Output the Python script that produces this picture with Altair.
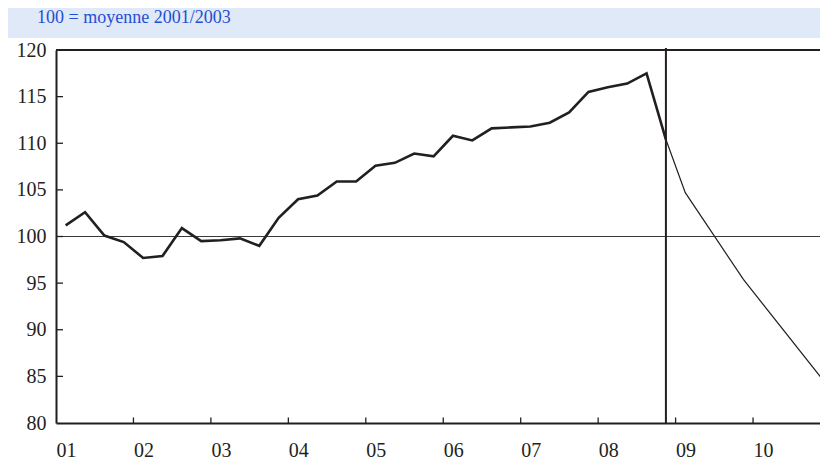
import json
import altair as alt
import pandas as pd

# ---------------- data ----------------
subtitle = "100 = moyenne 2001/2003"
years = list(range(2001, 2011))
year_labels = ["01", "02", "03", "04", "05", "06", "07", "08", "09", "10"]
y_ticks = [80, 85, 90, 95, 100, 105, 110, 115, 120]

# observed quarterly index, 2001Q1 .. 2008Q4
obs_values = [
    101.2, 102.6, 100.1, 99.4,
    97.7, 97.9, 100.9, 99.5,
    99.6, 99.8, 99.0, 102.0,
    104.0, 104.4, 105.9, 105.9,
    107.6, 107.9, 108.9, 108.6,
    110.8, 110.3, 111.6, 111.7,
    111.8, 112.2, 113.3, 115.5,
    116.0, 116.4, 117.5, 110.4,
]
# projection (quarter number counted from 2001Q1 = 1)
fc_quarter = [32, 33, 36, 40]
fc_values = [110.4, 104.7, 95.4, 84.9]
last_obs_quarter = 32

# ---------------- frames ----------------
def qtime(q):
    return years[0] + (q - 0.5) / 4

obs = pd.DataFrame({"t": [qtime(i + 1) for i in range(len(obs_values))], "v": obs_values})
fc = pd.DataFrame({"t": [qtime(q) for q in fc_quarter], "v": fc_values})
yt = pd.DataFrame({"v": [v for v in y_ticks if 80 < v < 120]})
xt = pd.DataFrame({"t": years[1:]})
one = pd.DataFrame({"s": [subtitle]})
vline = pd.DataFrame({"t": [qtime(last_obs_quarter)]})

W, H = 764, 373
XMAX = 2001 + W / 77.45
INK = "#231f20"
FONT = "Liberation Serif"

xs = alt.Scale(domain=[2001, XMAX], nice=False, zero=False)
ys = alt.Scale(domain=[80, 120], nice=False, zero=False)

label_expr = "%s[datum.value - %d]" % (json.dumps(year_labels), years[0])

xaxis = alt.Axis(values=years, labelExpr=label_expr, labelAlign="left",
                 labelBaseline="middle", labelPadding=27, labelFlush=False,
                 labelOverlap=False, title=None, labelFont=FONT, labelFontSize=20,
                 labelColor=INK, ticks=False, tickSize=0, grid=False,
                 domainColor=INK, domainWidth=2)
yaxis = alt.Axis(values=y_ticks, format="d", labelPadding=10, labelOverlap=False,
                 labelFlush=False, title=None, labelFont=FONT, labelFontSize=20,
                 labelColor=INK, ticks=False, tickSize=0, grid=False,
                 domainColor=INK, domainWidth=2)

band = alt.Chart(one).mark_rect(color="#dfe9f8").encode(
    x=alt.value(-48), x2=alt.value(W), y=alt.value(-42), y2=alt.value(-12))
head = alt.Chart(one).mark_text(align="left", baseline="alphabetic", font=FONT,
                                fontSize=18, color="#1f4fd2").encode(
    x=alt.value(-19), y=alt.value(-27.5), text="s:N")

top = alt.Chart(one).mark_rule(color=INK, strokeWidth=2).encode(
    x=alt.value(0), x2=alt.value(W), y=alt.value(0))
base100 = alt.Chart(one).mark_rule(color="#3a3a3a", strokeWidth=1.2).encode(
    y=alt.datum(100, scale=ys))
yticks = alt.Chart(yt).mark_rule(color=INK, strokeWidth=1.3).encode(
    y=alt.Y("v:Q", scale=ys, axis=yaxis), x=alt.value(0), x2=alt.value(7))
xticks = alt.Chart(xt).mark_rule(color=INK, strokeWidth=1.3).encode(
    x=alt.X("t:Q", scale=xs, axis=xaxis), y=alt.value(H), y2=alt.value(H - 5.5))

line_obs = alt.Chart(obs).mark_line(color=INK, strokeWidth=2.6).encode(
    x=alt.X("t:Q", scale=xs, axis=xaxis), y=alt.Y("v:Q", scale=ys, axis=yaxis))
line_fc = alt.Chart(fc).mark_line(color=INK, strokeWidth=1.2).encode(
    x=alt.X("t:Q", scale=xs), y=alt.Y("v:Q", scale=ys))
vrule = alt.Chart(vline).mark_rule(color=INK, strokeWidth=2).encode(
    x=alt.X("t:Q", scale=xs), y=alt.value(-2), y2=alt.value(H))

chart = alt.layer(band, head, base100, yticks, xticks, line_fc, line_obs, vrule, top).properties(
    width=W, height=H,
    autosize=alt.AutoSizeParams(type="none"),
    padding={"left": 48, "top": 42, "right": 0, "bottom": 37},
    background="white",
).configure(font=FONT).configure_view(stroke=None).configure_axis(
    labelFont=FONT, labelFontSize=20, labelColor=INK)

chart.save("out.html", embed_options={"renderer": "svg", "actions": False})
